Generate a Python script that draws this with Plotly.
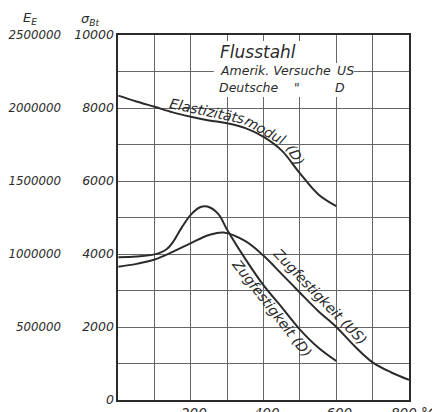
import plotly.graph_objects as go

# ---------------- data ----------------
# Elastizitätsmodul (D) in kg/cm² (scale E_E)
temp_e = [0, 50, 100, 150, 200, 250, 300, 350, 400, 450, 500, 550, 600]
e_modul_d = [2085000, 2045000, 2008000, 1970000, 1940000, 1915000, 1895000,
             1862000, 1802000, 1708000, 1552000, 1410000, 1328000]

# Zugfestigkeit (D) in kg/cm² (sigma scale)
temp_d = [0, 50, 100, 133, 150, 175, 200, 225, 245, 275, 300, 350, 400, 450, 500, 550, 600]
zug_d = [3910, 3930, 3990, 4130, 4320, 4730, 5080, 5280, 5300, 5100, 4660,
         3860, 3140, 2540, 1930, 1440, 1070]

# Zugfestigkeit (US)
temp_us = [0, 50, 100, 150, 200, 250, 290, 350, 400, 450, 500, 550, 600, 650, 700, 750, 800]
zug_us = [3650, 3730, 3850, 4060, 4300, 4520, 4590, 4350, 3950, 3450, 2940,
          2440, 2000, 1480, 1030, 760, 550]

# tick labels
x_tick_vals = [0, 100, 200, 300, 400, 500, 600, 700, 800]
x_tick_text = ["", "", "200", "", "400", "", "600", "", "\u00a0800 °C"]
sigma_tick_vals = [0, 1000, 2000, 3000, 4000, 5000, 6000, 7000, 8000, 9000, 10000]
sigma_tick_text = ["0", "", "2000", "", "4000", "", "6000", "", "8000", "", "10000"]
e_tick_vals = [500000, 1000000, 1500000, 2000000, 2500000]
e_tick_text = ["500000", "1000000", "1500000", "2000000", "2500000"]

# ---------------- styling ----------------
FONT = "DejaVu Sans"
INK = "#2b2b2b"
GRID = "#666666"
LINE_W = 2.0

# the page adds an 8px body margin, so the figure is drawn 8px smaller
W, H = 432, 404
PLOT_X0, PLOT_X1 = 110.3, 401.3
PLOT_Y0, PLOT_Y1 = 27.0, 392.5
ML, MR, MT, MB = 0, W - PLOT_X1, PLOT_Y0, H - PLOT_Y1
PAPER_W = W - MR
PLOT_H = PLOT_Y1 - PLOT_Y0

fig = go.Figure()

fig.add_trace(go.Scatter(x=temp_e, y=e_modul_d, yaxis="y2", mode="lines",
                         line=dict(color=INK, width=LINE_W, shape="spline"),
                         hoverinfo="skip", showlegend=False))
fig.add_trace(go.Scatter(x=temp_d, y=zug_d, mode="lines",
                         line=dict(color=INK, width=LINE_W, shape="spline"),
                         hoverinfo="skip", showlegend=False))
fig.add_trace(go.Scatter(x=temp_us, y=zug_us, mode="lines",
                         line=dict(color=INK, width=LINE_W, shape="spline"),
                         hoverinfo="skip", showlegend=False))

ital = dict(family=FONT, style="italic", color=INK)

# white boxes behind the legend text (hide grid, stay below traces)
fig.add_shape(type="rect", xref="x", yref="y", x0=266, x1=582, y0=9234, y1=9836,
              fillcolor="white", line=dict(width=0), layer="between")
fig.add_shape(type="rect", xref="x", yref="y", x0=263, x1=648, y0=8304, y1=9234,
              fillcolor="white", line=dict(width=0), layer="between")

annos = []
def txt(text, x, y, size, xanchor="left", angle=0, xref="x", yref="y", yanchor="middle"):
    annos.append(dict(text=text, x=x, y=y, xref=xref, yref=yref, showarrow=False,
                      xanchor=xanchor, yanchor=yanchor, textangle=angle,
                      font=dict(ital, size=size)))

# legend block
txt("Flusstahl", 274.6, 9535, 17)
txt("Amerik. Versuche", 274.6, 9015, 12.5)
txt("US", 595.7, 9015, 12.5)
txt("Deutsche", 271.3, 8550, 12.5)
txt("\"", 491, 8550, 12.5, xanchor="center")
txt("D", 590, 8550, 12.5)

# curve labels
txt("Elastizitäts", 243.8, 7920, 14, xanchor="center", angle=12)
txt("modul", 403, 7390, 14, xanchor="center", angle=29)
txt("(D)", 487, 6700, 14, xanchor="center", angle=60)
txt("Zugfestigkeit (D)", 422.6, 2517, 14, xanchor="center", angle=52)
txt("Zugfestigkeit (US)", 554, 2845, 14, xanchor="center", angle=46)

# axis headers
txt("E<sub>E</sub>", 22 / PAPER_W, (PLOT_Y1 - 10) / PLOT_H, 13,
    xanchor="center", xref="paper", yref="paper")
txt("σ<sub>Bt</sub>", 82 / PAPER_W, (PLOT_Y1 - 11) / PLOT_H, 13,
    xanchor="center", xref="paper", yref="paper")

fig.update_layout(
    width=W, height=H,
    margin=dict(l=ML, r=MR, t=MT, b=MB, autoexpand=False),
    paper_bgcolor="white", plot_bgcolor="white",
    showlegend=False,
    annotations=annos,
    xaxis=dict(domain=[PLOT_X0 / PAPER_W, 1], range=[0, 800],
               tickvals=x_tick_vals, ticktext=x_tick_text,
               showgrid=True, gridcolor=GRID, gridwidth=1,
               showline=True, linecolor=INK, linewidth=1.5, mirror=True,
               ticks="", zeroline=False, ticklabelshift=3,
               ticklabeloverflow="allow",
               tickfont=dict(ital, size=13.5), fixedrange=True),
    yaxis=dict(range=[0, 10000], tickvals=sigma_tick_vals, ticktext=sigma_tick_text,
               showgrid=True, gridcolor=GRID, gridwidth=1,
               showline=True, linecolor=INK, linewidth=1.5, mirror=True,
               ticks="", zeroline=False,
               tickfont=dict(ital, size=12.5), fixedrange=True),
    yaxis2=dict(range=[0, 2500000], overlaying="y", anchor="free",
                position=53 / PAPER_W, side="left",
                tickvals=e_tick_vals, ticktext=e_tick_text,
                showgrid=False, showline=False, zeroline=False, ticks="",
                tickfont=dict(ital, size=11.8), fixedrange=True),
)

fig.write_html("out.html")
